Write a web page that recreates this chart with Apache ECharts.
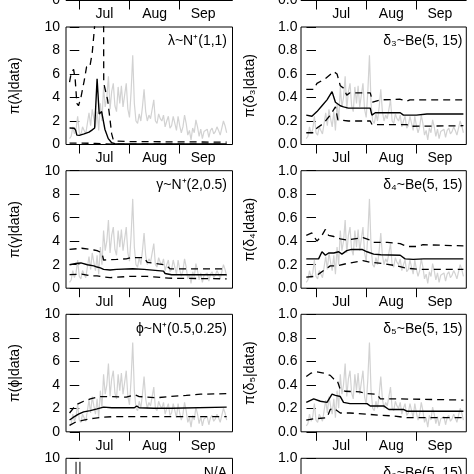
<!DOCTYPE html>
<html><head><meta charset="utf-8">
<script src="https://cdn.jsdelivr.net/npm/echarts@6/dist/echarts.min.js"></script>
<style>html,body{margin:0;padding:0;background:#fff}#c{width:474px;height:474px}</style>
</head><body><div id="c"></div>
<script>
// ---------- data ----------
// days counted from 1 July (0 = Jul 1, 31 = Aug 1, 62 = Sep 1)
const firstDay = -6;
const monthTicks = [0, 31, 62];
const monthLabelPos = [15.5, 46.5, 76.5];
const monthNames = ['Jul', 'Aug', 'Sep'];

// observed daily series (grey), Jun 25 .. Sep 30, on the 0-10 scale
const observed = [0.5, 0.7, 1.5, 0.9, 1.3, 2.4, 1.0, 0.8, 1.5, 1.2, 0.9, 1.8, 2.7, 1.6, 3.0, 2.2,
  1.5, 2.8, 1.2, 3.5, 2.0, 4.9, 3.2, 4.0, 5.8, 3.0, 4.5, 5.2, 3.3, 2.8, 4.9, 3.5, 5.0, 3.2, 4.2,
  5.2, 3.0, 2.3, 4.5, 7.6, 3.5, 2.0, 1.8, 2.6, 2.0, 3.2, 4.7, 2.8, 2.0, 2.5, 2.2, 3.0, 3.8, 2.0,
  1.8, 2.6, 2.2, 2.0, 2.5, 1.5, 2.0, 2.4, 1.4, 1.6, 2.4, 1.8, 1.2, 2.4, 1.6, 1.0, 1.5, 2.5, 1.8,
  0.8, 1.2, 0.4, 1.4, 1.0, 2.1, 1.5, 0.7, 1.3, 0.5, 1.1, 1.0, 1.3, 0.6, 1.2, 1.4, 0.9, 1.1, 1.5,
  1.2, 0.8, 1.4, 2.0, 1.6, 1.0];

// posterior median / interval lines, [day, value]
const lambdaMed = [[-6,1.4],[-3,1.38],[-2.2,1.2],[-1.5,0.8],[0,0.78],[3,0.9],[6,1.05],[7.6,1.2],[9.5,1.4],[11,5.6],[12.3,2.6],[13.8,2.8],[15.8,1.3],[17.9,0.5],[20,0.15],[22,0.07],[91,0.05]];
const lambdaHi = [[-6,5.3],[-5,6.1],[-3.5,6.4],[-2.5,5.5],[-1.5,3.5],[-0.5,3.3],[1,4.0],[3,5.4],[4.5,6.6],[6.5,6.6],[8,7.8],[9.3,9.8],[10.5,12],[13,13],[15,12],[15.1,5.2],[17.5,3.8],[19,2.1],[20,0.9],[21,0.4],[23,0.3],[30,0.25],[91,0.2]];
const lambdaLo = [[-6,0.12],[10,0.1],[20,0.03],[91,0.02]];

const gammaMed = [[-6,2.0],[-2,2.1],[1,2.15],[5,2.0],[9,1.9],[11,1.8],[13,1.73],[15,1.6],[16,1.5],[19,1.55],[23,1.6],[33,1.65],[40,1.6],[41,1.45],[52,1.45],[53,1.25],[57,1.15],[91,1.15]];
const gammaHi = [[-6,3.3],[1.5,3.4],[9,3.25],[11,3.2],[14,3.0],[15,2.4],[23,2.45],[29,2.5],[32,2.6],[40,2.6],[42,2.2],[52,2.0],[54,1.9],[56,1.65],[91,1.65]];
const gammaLo = [[-6,1.15],[1.5,1.2],[7,1.05],[11,1.05],[15,0.95],[19,0.9],[31,1.0],[42,1.0],[48,0.95],[55,0.85],[56,0.8],[91,0.8]];

const phiMed = [[-6,1.0],[-4,1.2],[-0.5,1.5],[2.7,1.7],[6.8,1.8],[11,1.95],[15,2.1],[20,2.05],[34,2.05],[35.5,2.2],[37,2.05],[46,2.0],[57,2.0],[58,2.1],[91,2.1]];
const phiHi = [[-6,1.6],[-2,2.3],[2.7,2.6],[6.8,2.8],[13,3.0],[19,3.0],[29,2.95],[34.5,3.15],[37,3.0],[48,2.9],[56,3.0],[66,3.1],[75,3.2],[91,3.25]];
const phiLo = [[-6,0.55],[-2,0.85],[2.7,1.0],[8.8,1.15],[15,1.25],[23,1.3],[91,1.3]];

const d3Med = [[-6,0.25],[-2.5,0.24],[-1.4,0.23],[0.6,0.28],[3.7,0.33],[6.8,0.38],[9.9,0.45],[11,0.44],[12,0.36],[15,0.33],[17,0.32],[20,0.31],[33.5,0.31],[34.5,0.25],[36.6,0.27],[52,0.27],[54,0.25],[62,0.25],[68.5,0.26],[91,0.26]];
const d3Hi = [[-6,0.47],[-1.4,0.47],[0.6,0.52],[5.8,0.56],[11,0.62],[13,0.6],[15,0.5],[17,0.48],[19,0.42],[21,0.44],[33.5,0.44],[35,0.36],[39.7,0.38],[52,0.385],[56,0.37],[58,0.38],[91,0.38]];
const d3Lo = [[-6,0.1],[-1.5,0.1],[0.6,0.14],[4.7,0.18],[8.8,0.25],[12,0.32],[13.5,0.21],[20,0.2],[33.5,0.2],[34.6,0.17],[56,0.17],[58,0.155],[91,0.16]];

const d4Med = [[-6,0.25],[1.6,0.25],[3.7,0.31],[5.8,0.28],[7.8,0.3],[11,0.3],[14,0.31],[16,0.29],[19,0.32],[22,0.33],[28.4,0.33],[31.5,0.31],[35.6,0.29],[40,0.285],[52,0.28],[55,0.25],[60,0.245],[66.5,0.25],[91,0.25]];
const d4Hi = [[-6,0.45],[-2.5,0.47],[0.6,0.40],[3.7,0.45],[5.8,0.5],[7.8,0.45],[11,0.44],[15,0.42],[19,0.41],[29,0.43],[33.5,0.41],[35.6,0.39],[44,0.39],[52,0.38],[56,0.355],[62,0.355],[66,0.37],[91,0.36]];
const d4Lo = [[-6,0.095],[-1.4,0.1],[1.6,0.12],[4.7,0.15],[8.8,0.19],[13,0.19],[19,0.21],[29,0.235],[33.5,0.22],[41.6,0.21],[49.8,0.19],[56,0.17],[64,0.16],[91,0.16]];

const d5Med = [[-6,0.25],[-1.4,0.28],[2.7,0.26],[6.8,0.25],[9.9,0.32],[12,0.31],[15,0.3],[17,0.25],[21,0.24],[31.5,0.24],[33.5,0.22],[41.8,0.22],[45,0.19],[54,0.19],[56,0.175],[91,0.175]];
const d5Hi = [[-6,0.47],[-3,0.5],[0.6,0.51],[4.7,0.5],[8.8,0.48],[11,0.45],[13,0.44],[15,0.36],[18,0.345],[27,0.34],[31.5,0.325],[37.7,0.32],[39.7,0.28],[52,0.28],[91,0.27]];
const d5Lo = [[-6,0.1],[-1.4,0.11],[6.8,0.12],[8.8,0.19],[11,0.2],[15,0.16],[21,0.16],[31.5,0.15],[39.7,0.14],[48,0.135],[56,0.12],[91,0.12]];

const naLineA = [[-2.0,9.7],[-2.0,5]];
const naLineB = [[0.4,9.7],[0.4,5]];

const leftTicksMax = 10, leftInterval = 2;
const rightTicksMax = 1, rightInterval = 0.2;

// ---------- layout ----------
const FONT = "'Liberation Sans', Arial, Helvetica, sans-serif";
const rowTops = [-117, 27, 170.7, 314.3, 458.3];
const panelH = 117.5;
const cols = [
  {left: 66, width: 166.5, min: -8.2, max: 94.6, labelMargin: 6, nameGap: 44, annotRight: 247},
  {left: 301, width: 165.3, min: -9.26, max: 92.8, labelMargin: 3.5, nameGap: 44, annotRight: 11.5}
];

const panels = [
  {r:0,c:0}, {r:0,c:1},
  {r:1,c:0,name:'π(λ|data)',annot:'λ~N⁺(1,1)',lines:[lambdaMed,lambdaHi,lambdaLo]},
  {r:1,c:1,name:'π(δ₃|data)',annot:'δ₃~Be(5, 15)',lines:[d3Med,d3Hi,d3Lo]},
  {r:2,c:0,name:'π(γ|data)',annot:'γ~N⁺(2,0.5)',lines:[gammaMed,gammaHi,gammaLo]},
  {r:2,c:1,name:'π(δ₄|data)',annot:'δ₄~Be(5, 15)',lines:[d4Med,d4Hi,d4Lo]},
  {r:3,c:0,name:'π(ϕ|data)',annot:'ϕ~N⁺(0.5,0.25)',lines:[phiMed,phiHi,phiLo]},
  {r:3,c:1,name:'π(δ₅|data)',annot:'δ₅~Be(5, 15)',lines:[d5Med,d5Hi,d5Lo]},
  {r:4,c:0,annot:'N/A',na:true},
  {r:4,c:1,annot:'δ₆~Be(5, 15)'}
];

const obsPairs = observed.map((v, i) => [firstDay + i, v]);

const grid = [], xAxis = [], yAxis = [], series = [], title = [];
const txt = {fontFamily: FONT, fontSize: 14, color: '#000'};

panels.forEach((p, i) => {
  const col = cols[p.c];
  const top = rowTops[p.r];
  grid.push({left: col.left, top: top, width: col.width, height: panelH,
    show: true, borderColor: '#000', borderWidth: 1, backgroundColor: 'transparent',
    containLabel: false, outerBoundsMode: 'none'});
  xAxis.push({type: 'value', gridIndex: i, min: col.min, max: col.max,
    axisLine: {show: false}, splitLine: {show: false},
    axisTick: {show: true, length: 9, inside: false, customValues: monthTicks, lineStyle: {color: '#000', width: 1}},
    axisLabel: {show: true, margin: 7, customValues: monthLabelPos, ...txt,
      formatter: v => monthNames[monthLabelPos.indexOf(v)] || ''}
  });
  const isRight = p.c === 1;
  const yMax = isRight ? rightTicksMax : leftTicksMax;
  const yInt = isRight ? rightInterval : leftInterval;
  const yIdx = yAxis.length;
  yAxis.push({type: 'value', gridIndex: i, min: 0, max: yMax, interval: yInt,
    axisLine: {show: false}, splitLine: {show: false},
    axisTick: {show: true, length: 9.5, lineStyle: {color: '#000', width: 1}},
    axisLabel: {show: true, margin: col.labelMargin, ...txt,
      formatter: v => isRight ? v.toFixed(1) : String(Math.round(v))},
    name: p.name || '', nameLocation: 'middle', nameGap: col.nameGap,
    nameTextStyle: {...txt}
  });
  let obsIdx = yIdx;
  if (isRight) {
    obsIdx = yAxis.length;
    yAxis.push({type: 'value', gridIndex: i, min: 0, max: leftTicksMax, show: false});
  }
  if (p.lines) {
    series.push({type: 'line', xAxisIndex: i, yAxisIndex: obsIdx, data: obsPairs, showSymbol: false,
      lineStyle: {color: '#d2d2d2', width: 1.2}, z: 1, silent: true, animation: false});
    const [med, hi, lo] = p.lines;
    series.push({type: 'line', xAxisIndex: i, yAxisIndex: yIdx, data: hi, showSymbol: false,
      lineStyle: {color: '#000', width: 1.3, type: [7, 5]}, z: 3, animation: false});
    series.push({type: 'line', xAxisIndex: i, yAxisIndex: yIdx, data: lo, showSymbol: false,
      lineStyle: {color: '#000', width: 1.3, type: [7, 5]}, z: 3, animation: false});
    series.push({type: 'line', xAxisIndex: i, yAxisIndex: yIdx, data: med, showSymbol: false,
      lineStyle: {color: '#000', width: 1.4}, z: 4, animation: false});
  }
  if (p.na) {
    [naLineA, naLineB].forEach(d => series.push({type: 'line', xAxisIndex: i, yAxisIndex: yIdx, data: d,
      showSymbol: false, lineStyle: {color: '#000', width: 1}, animation: false}));
  }
  if (p.annot) {
    title.push({text: p.annot, right: col.annotRight, top: top + 6.5, padding: 0,
      textStyle: {...txt, fontWeight: 'normal', lineHeight: 16}});
  }
});

const chart = echarts.init(document.getElementById('c'), null, {renderer: 'canvas'});
chart.setOption({animation: false, backgroundColor: '#fff', title, grid, xAxis, yAxis, series});
</script></body></html>
